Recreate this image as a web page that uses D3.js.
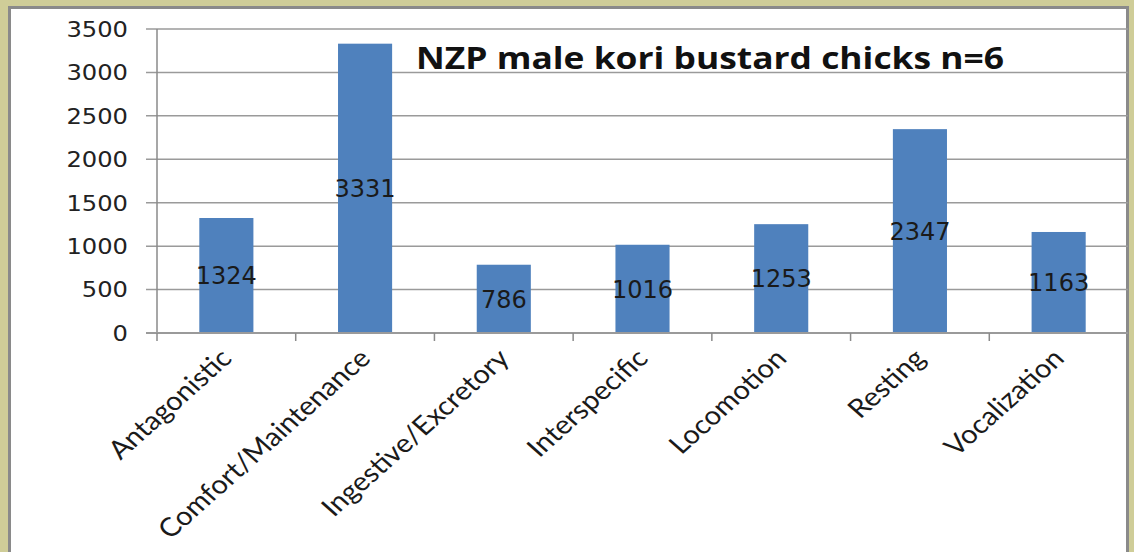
<!DOCTYPE html>
<html>
<head>
<meta charset="utf-8">
<script src="https://cdn.jsdelivr.net/npm/d3@7"></script>
<style>
  html, body { margin: 0; padding: 0; background: #cfcd98; }
  svg { display: block; }
</style>
</head>
<body>
<svg id="chart" width="1134" height="552"></svg>
<script>
const categories = ["Antagonistic", "Comfort/Maintenance", "Ingestive/Excretory", "Interspecific", "Locomotion", "Resting", "Vocalization"];
const values = [1324, 3331, 786, 1016, 1253, 2347, 1163];
const yTicks = [0, 500, 1000, 1500, 2000, 2500, 3000, 3500];
const title = "NZP male kori bustard chicks n=6";

const svg = d3.select("#chart");

// white panel with grey frame
svg.append("rect")
  .attr("x", 9.5).attr("y", 7.5)
  .attr("width", 1118).attr("height", 560)
  .attr("fill", "#fff")
  .attr("stroke", "#8a8a8a")
  .attr("stroke-width", 3);

const plotLeft = 157, plotRight = 1128, plotTop = 29, plotBottom = 333;

const x = d3.scaleBand()
  .domain(categories)
  .range([plotLeft, plotRight])
  .paddingInner(0.61)
  .paddingOuter(0.305);

const xTickScale = d3.scaleBand().domain(categories).range([plotLeft, plotRight]);

const y = d3.scaleLinear().domain([0, 3500]).range([plotBottom, plotTop]);

// gridlines
svg.append("g")
  .selectAll("line")
  .data(yTicks)
  .join("line")
  .attr("x1", plotLeft - 11).attr("x2", plotRight)
  .attr("y1", d => y(d)).attr("y2", d => y(d))
  .attr("stroke", "#9a9a9a")
  .attr("stroke-width", 1.5);

// y labels
svg.append("g")
  .selectAll("text")
  .data(yTicks)
  .join("text")
  .attr("transform", d => `translate(128,${y(d)}) scale(1.1,1)`)
  .attr("dy", "0.36em")
  .attr("text-anchor", "end")
  .style("font-family", "DejaVu Sans")
  .style("font-size", "22px")
  .attr("fill", "#222")
  .text(d => d);

// bars
svg.append("g")
  .selectAll("rect")
  .data(values)
  .join("rect")
  .attr("x", (d, i) => x(categories[i]))
  .attr("y", d => y(d))
  .attr("width", x.bandwidth())
  .attr("height", d => y(0) - y(d))
  .attr("fill", "#4f81bd");

// value labels
svg.append("g")
  .selectAll("text")
  .data(values)
  .join("text")
  .attr("x", (d, i) => x(categories[i]) + x.bandwidth() / 2)
  .attr("y", d => (y(0) + y(d)) / 2)
  .attr("dy", "0.36em")
  .attr("text-anchor", "middle")
  .style("font-family", "DejaVu Sans")
  .style("font-size", "24px")
  .attr("fill", "#1a1a1a")
  .text(d => d);

// axis lines
svg.append("line")
  .attr("x1", plotLeft).attr("x2", plotLeft)
  .attr("y1", plotTop).attr("y2", plotBottom)
  .attr("stroke", "#8a8a8a").attr("stroke-width", 1.5);

svg.append("line")
  .attr("x1", plotLeft - 11).attr("x2", plotRight)
  .attr("y1", plotBottom).attr("y2", plotBottom)
  .attr("stroke", "#9a9a9a").attr("stroke-width", 2);

// category ticks
svg.append("g")
  .selectAll("line")
  .data(categories)
  .join("line")
  .attr("x1", d => xTickScale(d)).attr("x2", d => xTickScale(d))
  .attr("y1", plotBottom).attr("y2", plotBottom + 8)
  .attr("stroke", "#8a8a8a").attr("stroke-width", 1.5);

// category labels (slightly stretched sideways, like the source image)
svg.append("g")
  .selectAll("text")
  .data(categories)
  .join("text")
  .attr("transform", d => `translate(${xTickScale(d) + xTickScale.bandwidth() / 2 + 7},${plotBottom + 27}) scale(1.12,1) rotate(-45)`)
  .attr("text-anchor", "end")
  .style("font-family", "Lato")
  .style("font-size", "26px")
  .attr("fill", "#1a1a1a")
  .text(d => d);

// title
svg.append("text")
  .attr("x", 416)
  .attr("y", 69)
  .attr("textLength", 588)
  .attr("lengthAdjust", "spacingAndGlyphs")
  .style("font-family", "Open Sans")
  .style("font-weight", "bold")
  .style("font-size", "31px")
  .attr("fill", "#111")
  .text(title);
</script>
</body>
</html>
